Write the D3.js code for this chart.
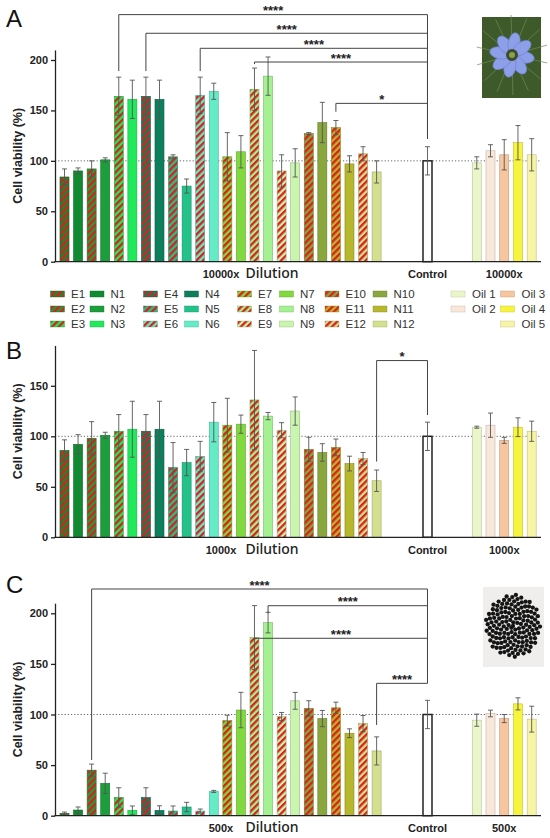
<!DOCTYPE html>
<html>
<head>
<meta charset="utf-8">
<script src="https://cdn.jsdelivr.net/npm/d3@7"></script>
<style>
  body { margin: 0; background: #fff; }
  svg { display: block; font-family: "Liberation Sans", Arial, sans-serif; }
</style>
</head>
<body>
<svg id="chart" width="550" height="838"></svg>
<script>
// categories in plotting order
const samples = ["E1","N1","E2","N2","E3","N3","E4","N4","E5","N5","E6","N6",
                 "E7","N7","E8","N8","E9","N9","E10","N10","E11","N11","E12","N12"];
const oils = ["Oil 1","Oil 2","Oil 3","Oil 4","Oil 5"];

// panel A, 10000x
const meanA = [84,90,92,101,164,161,164,161,104,75,165,169,104,109,171,184,90,98,127,138,133,97,107,89];
const sdA   = [8,3,8,2,19,19,19,19,2,7,18,8,24,16,21,19,16,14,1,20,7,8,7,11];
const ctrlA = 100, ctrlSdA = 14;
const oilA  = [98,110,106,118,106];
const oilSdA = [6,6,15,17,16];

// panel B, 1000x
const meanB = [86,92,98,101,105,107,105,107,69,74,80,114,111,112,136,120,106,125,87,84,89,73,78,56];
const sdB   = [10.5,9.6,16.5,3,16.5,27.7,16.5,27.7,24.8,13,15,19.5,26.6,9,49,3.6,7.5,14,12,8.7,8.3,7.3,6,10.6];
const ctrlB = 100, ctrlSdB = 14;
const oilB  = [109,111,96,109,105];
const oilSdB = [1,12,3,9.3,10];

// panel C, 500x
const meanC = [2.3,5.6,45,32,18,5.3,18,5.3,4.6,8.6,4.6,24,94,104.4,176,190.8,98,113.5,106,96,106.6,81.5,91,64];
const sdC   = [1.3,3,6,10,9.6,4.3,9.6,4.5,5,4.6,2,1,5.3,17.5,31.6,10.2,4,8.3,7.6,8,5.6,4.3,8,13.9];
const ctrlC = 100, ctrlSdC = 14;
const oilC  = [94.4,101,96,110.5,95.4];
const oilSdC = [6,3.3,4,6,12.8];

// significance brackets (compared with control)
const sigA = [
  {from: "E3",  stars: "****", level: 245,   drop: 189},
  {from: "E4",  stars: "****", level: 226.5, drop: 189},
  {from: "E6",  stars: "****", level: 211.6, drop: 189},
  {from: "E8",  stars: "****", level: 198,   drop: 196},
  {from: "E11", stars: "*",    level: 157,   drop: 148.7}
];
const sigB = [
  {from: "N12", stars: "*", level: 175, drop: 75}
];
const sigC = [
  {from: "E2",  stars: "****", level: 224,   drop: 55},
  {from: "N8",  stars: "****", level: 207.5, drop: 200},
  {from: "E8",  stars: "****", level: 175.3, drop: 175.3},
  {from: "N12", stars: "****", level: 130.8, drop: 89.7}
];

const yTicksA = [0,50,100,150,200];
const yTicksB = [0,50,100,150];
const yTicksC = [0,50,100,150,200];

// colours (style, not data)
const nColors = ["#118a32","#1c9e3c","#22e85c","#0d7f5c","#22c28a","#64ecc6",
                 "#80da3e","#a4f191","#c9f5ae","#8aa73e","#b7b72d","#d4e08e"];
const oilColors = ["#ebf6c8","#f9e7da","#f7c59e","#f6f43c","#f8f4a6"];
const hatchRed = "#dc1f1a";

const svg = d3.select("#chart");
const defs = svg.append("defs");

const hp = 4.6; // hatch period
nColors.forEach((c, i) => {
  const p = defs.append("pattern")
    .attr("id", "hatch" + i)
    .attr("patternUnits", "userSpaceOnUse")
    .attr("width", hp).attr("height", hp)
    .attr("patternTransform", "rotate(45)");
  p.append("rect").attr("width", hp).attr("height", hp).attr("fill", c);
  p.append("rect").attr("width", hp / 2).attr("height", hp).attr("fill", hatchRed);
});

function sampleFill(name) {
  const idx = +name.slice(1) - 1;
  return name[0] === "E" ? `url(#hatch${idx})` : nColors[idx];
}
function sampleStroke(name) {
  const idx = +name.slice(1) - 1;
  return d3.color(nColors[idx]).darker(0.8);
}

// slot -> pixel, shared by all three panels
const xs = d3.scaleLinear().domain([0, 1]).range([64.5, 78.07]);
const ctrlSlot = 26.75;
const oilSlot = j => 30.38 + j * 1.012;
const barW = 9;
const axisX = 55, axisEnd = 541;

function drawPanel(cfg) {
  const g = svg.append("g");
  const y = d3.scaleLinear().domain([0, cfg.top]).range([cfg.zero, cfg.zero - cfg.top * cfg.k]);

  // reference line at 100 %
  g.append("line")
    .attr("x1", axisX).attr("x2", axisEnd)
    .attr("y1", y(100)).attr("y2", y(100))
    .attr("stroke", "#555").attr("stroke-width", 0.9)
    .attr("stroke-dasharray", "1.2,2");

  const rows = samples.map((s, i) => ({
    name: s, v: cfg.mean[i], sd: cfg.sd[i], cx: xs(i),
    fill: sampleFill(s), stroke: sampleStroke(s), sw: 0.6
  }));
  rows.push({name: "Control", v: cfg.ctrl, sd: cfg.ctrlSd, cx: xs(ctrlSlot),
             fill: "#fff", stroke: "#222", sw: 1.5});
  oils.forEach((o, j) => rows.push({
    name: o, v: cfg.oil[j], sd: cfg.oilSd[j], cx: xs(oilSlot(j)),
    fill: oilColors[j], stroke: d3.color(oilColors[j]).darker(0.7), sw: 0.6
  }));

  g.selectAll("rect.bar").data(rows).join("rect")
    .attr("class", "bar")
    .attr("x", d => d.cx - barW / 2)
    .attr("width", barW)
    .attr("y", d => y(d.v))
    .attr("height", d => y(0) - y(d.v))
    .attr("fill", d => d.fill)
    .attr("stroke", d => d.stroke)
    .attr("stroke-width", d => d.sw);

  // error bars
  const eb = g.selectAll("g.err").data(rows).join("g").attr("class", "err")
    .attr("stroke", "#555").attr("stroke-width", 0.9);
  eb.append("line")
    .attr("x1", d => d.cx).attr("x2", d => d.cx)
    .attr("y1", d => y(Math.max(0, d.v - d.sd))).attr("y2", d => y(d.v + d.sd));
  eb.append("line")
    .attr("x1", d => d.cx - 2.5).attr("x2", d => d.cx + 2.5)
    .attr("y1", d => y(d.v + d.sd)).attr("y2", d => y(d.v + d.sd));
  eb.append("line")
    .attr("x1", d => d.cx - 2.5).attr("x2", d => d.cx + 2.5)
    .attr("y1", d => y(Math.max(0, d.v - d.sd))).attr("y2", d => y(Math.max(0, d.v - d.sd)));

  // axes
  const ax = g.append("g").attr("transform", `translate(${axisX},0)`)
    .call(d3.axisLeft(y).tickValues(cfg.ticks).tickSize(4).tickSizeOuter(0).tickPadding(3));
  ax.select(".domain").attr("stroke", "#222").attr("stroke-width", 1.3);
  ax.selectAll(".tick line").attr("stroke", "#222").attr("stroke-width", 1.3);
  ax.selectAll(".tick text")
    .attr("font-family", "'Liberation Sans', Arial, sans-serif")
    .attr("font-size", 11).attr("font-weight", "bold").attr("fill", "#222");
  g.append("line")
    .attr("x1", axisX - 0.6).attr("x2", axisEnd)
    .attr("y1", y(0)).attr("y2", y(0))
    .attr("stroke", "#222").attr("stroke-width", 1.3);

  g.append("text")
    .attr("transform", `translate(22,${(y(0) + y(cfg.top)) / 2 + cfg.labelShift}) rotate(-90)`)
    .attr("text-anchor", "middle")
    .attr("font-size", 12.5).attr("font-weight", "bold").attr("fill", "#222")
    .text("Cell viability (%)");

  // panel letter
  g.append("text").attr("x", 6).attr("y", cfg.letterY)
    .attr("font-size", 24).attr("fill", "#111").text(cfg.letter);

  // x labels
  const by = y(0) + 16.5;
  g.append("text").attr("x", 221).attr("y", by).attr("text-anchor", "middle")
    .attr("font-size", 11).attr("font-weight", "bold").attr("fill", "#222").text(cfg.dil);
  g.append("text").attr("x", 272).attr("y", by).attr("text-anchor", "middle")
    .attr("font-family", "'Noto Sans', sans-serif")
    .attr("font-size", 14).attr("font-weight", 500).attr("fill", "#222").text("Dilution");
  g.append("text").attr("x", xs(ctrlSlot)).attr("y", by).attr("text-anchor", "middle")
    .attr("font-size", 11).attr("font-weight", "bold").attr("fill", "#222").text("Control");
  g.append("text").attr("x", (xs(oilSlot(0)) + xs(oilSlot(4))) / 2).attr("y", by)
    .attr("text-anchor", "middle")
    .attr("font-size", 11).attr("font-weight", "bold").attr("fill", "#222").text(cfg.dil);

  // significance brackets
  const cx = xs(ctrlSlot);
  const sg = g.append("g").attr("stroke", "#444").attr("stroke-width", 1).attr("fill", "none");
  cfg.sig.forEach(s => {
    const x0 = xs(samples.indexOf(s.from));
    sg.append("path").attr("d",
      `M${x0},${y(s.drop)}V${y(s.level)}H${cx}V${y(cfg.sigDrop)}`);
    g.append("text")
      .attr("x", (x0 + cx) / 2).attr("y", y(s.level) + 0.5)
      .attr("text-anchor", "middle")
      .attr("font-size", 13).attr("font-weight", "bold").attr("fill", "#222")
      .text(s.stars);
  });
  return g;
}

drawPanel({letter: "A", letterY: 27, zero: 261.7, k: 1.0085, top: 210, ticks: yTicksA,
  mean: meanA, sd: sdA, ctrl: ctrlA, ctrlSd: ctrlSdA, oil: oilA, oilSd: oilSdA,
  dil: "10000x", sig: sigA, sigDrop: 122, labelShift: 0});
drawPanel({letter: "B", letterY: 359, zero: 537.3, k: 1.01, top: 190, ticks: yTicksB,
  mean: meanB, sd: sdB, ctrl: ctrlB, ctrlSd: ctrlSdB, oil: oilB, oilSd: oilSdB,
  dil: "1000x", sig: sigB, sigDrop: 121, labelShift: -10});
drawPanel({letter: "C", letterY: 593, zero: 815.7, k: 1.012, top: 210, ticks: yTicksC,
  mean: meanC, sd: sdC, ctrl: ctrlC, ctrlSd: ctrlSdC, oil: oilC, oilSd: oilSdC,
  dil: "500x", sig: sigC, sigDrop: 142, labelShift: 0});

// legend
const lg = svg.append("g").attr("font-size", 11.5).attr("fill", "#333");
const rowY = [294, 309, 324];
const groupX = [50.5, 143.5, 237.5, 325];
const nOffset = [39.5, 41, 42, 48];
samples.forEach((s, i) => {
  const pair = Math.floor(i / 2);           // 0..11
  const grp = Math.floor(pair / 3), row = pair % 3;
  const isE = s[0] === "E";
  const sx = groupX[grp] + (isE ? 0 : nOffset[grp]);
  lg.append("rect").attr("x", sx).attr("y", rowY[row] - 3).attr("width", 14).attr("height", 6)
    .attr("fill", sampleFill(s)).attr("stroke", sampleStroke(s)).attr("stroke-width", 0.4);
  lg.append("text").attr("x", sx + 20.5).attr("y", rowY[row] + 4).text(s);
});
const oilLegendPos = [[451, 0], [451, 1], [500.5, 0], [500.5, 1], [500.5, 2]];
oils.forEach((o, j) => {
  const [sx, row] = oilLegendPos[j];
  lg.append("rect").attr("x", sx).attr("y", rowY[row] - 3).attr("width", 14).attr("height", 6)
    .attr("fill", oilColors[j]).attr("stroke", d3.color(oilColors[j]).darker(0.7)).attr("stroke-width", 0.4);
  lg.append("text").attr("x", sx + 21).attr("y", rowY[row] + 4).text(o);
});

// flower picture (A)
const fl = svg.append("g");
fl.append("rect").attr("x", 482).attr("y", 17).attr("width", 59).attr("height", 81).attr("fill", "#3e5a2b");
d3.range(14).forEach(k => {
  const a = k * Math.PI / 7 + 0.2;
  fl.append("line").attr("x1", 512).attr("y1", 55)
    .attr("x2", 512 + Math.cos(a) * 36).attr("y2", 55 + Math.sin(a) * 40)
    .attr("stroke", "#6f8d4f").attr("stroke-width", 0.7);
});
d3.range(8).forEach(k => {
  const a = k * 45 + 10;
  fl.append("ellipse")
    .attr("transform", `translate(512,55) rotate(${a}) translate(12,0)`)
    .attr("rx", 10.5).attr("ry", 6)
    .attr("fill", "#8c9fe8").attr("stroke", "#6e80cf").attr("stroke-width", 0.6);
});
fl.append("circle").attr("cx", 512).attr("cy", 55).attr("r", 6).attr("fill", "#3b4d2e");
fl.append("circle").attr("cx", 512).attr("cy", 55).attr("r", 3).attr("fill", "#8aa04a");

// seed picture (C)
const sd = svg.append("g");
sd.append("rect").attr("x", 483).attr("y", 587).attr("width", 61).attr("height", 80).attr("fill", "#efeeec");
d3.range(150).forEach(k => {
  const r = Math.sqrt(k) * 2.25, a = k * 2.39996;
  sd.append("circle").attr("cx", 513 + Math.cos(a) * r).attr("cy", 626 + Math.sin(a) * r * 1.15)
    .attr("r", 2.15).attr("fill", "#151515");
});
</script>
</body>
</html>
